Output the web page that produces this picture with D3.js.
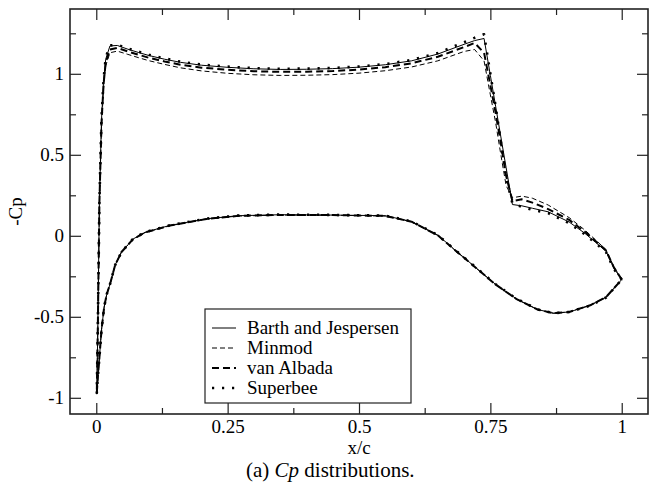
<!DOCTYPE html>
<html>
<head>
<meta charset="utf-8">
<script src="https://cdn.jsdelivr.net/npm/d3@7"></script>
<style>
  html, body { margin: 0; padding: 0; background: #fff; }
  svg { display: block; }
  text { font-family: "Liberation Serif", "Times New Roman", serif; fill: #000; }
</style>
</head>
<body>
<svg id="chart" width="649" height="490"></svg>
<script>
// Chordwise stations (x/c) on the upper and lower surfaces
const xUpper = [0.001, 0.003, 0.006, 0.010, 0.014, 0.018, 0.026, 0.040, 0.060, 0.080,
                0.100, 0.130, 0.160, 0.200, 0.250, 0.300, 0.350, 0.400, 0.450, 0.500,
                0.550, 0.600, 0.650, 0.700, 0.720, 0.738, 0.750, 0.760, 0.770, 0.780,
                0.792, 0.810, 0.830, 0.860, 0.900, 0.930, 0.950, 0.970, 0.985, 1.000];
const xLower = [0.001, 0.003, 0.006, 0.010, 0.015, 0.020, 0.026, 0.036, 0.048, 0.070,
                0.093, 0.140, 0.210, 0.270, 0.350, 0.450, 0.550, 0.600, 0.650, 0.680,
                0.720, 0.760, 0.800, 0.840, 0.870, 0.900, 0.940, 0.970, 1.000];

// -Cp, upper surface, per limiter
const barthUpper    = [-0.97, -0.55, 0.22, 0.72, 0.96, 1.09, 1.172, 1.175, 1.152, 1.132,
                       1.113, 1.090, 1.071, 1.053, 1.040, 1.031, 1.027, 1.028, 1.032, 1.041,
                       1.056, 1.080, 1.122, 1.182, 1.205, 1.218, 0.990, 0.800, 0.610, 0.420,
                       0.193, 0.185, 0.170, 0.148, 0.085, 0.015, -0.040, -0.095, -0.200, -0.270];
const minmodUpper   = [-0.97, -0.56, 0.20, 0.68, 0.92, 1.05, 1.130, 1.140, 1.120, 1.100,
                       1.081, 1.058, 1.037, 1.018, 1.003, 0.994, 0.990, 0.991, 0.995, 1.004,
                       1.019, 1.042, 1.080, 1.138, 1.150, 1.080, 0.870, 0.700, 0.500, 0.310,
                       0.235, 0.245, 0.232, 0.190, 0.112, 0.035, -0.025, -0.085, -0.190, -0.270];
const vanAlbadaUpper = [-0.97, -0.55, 0.21, 0.70, 0.94, 1.07, 1.150, 1.160, 1.138, 1.118,
                       1.099, 1.076, 1.056, 1.038, 1.025, 1.016, 1.012, 1.013, 1.017, 1.026,
                       1.041, 1.065, 1.105, 1.165, 1.190, 1.130, 0.930, 0.760, 0.570, 0.370,
                       0.215, 0.225, 0.205, 0.165, 0.098, 0.025, -0.032, -0.090, -0.195, -0.270];
const superbeeUpper = [-0.97, -0.55, 0.22, 0.73, 0.97, 1.10, 1.175, 1.180, 1.157, 1.137,
                       1.118, 1.095, 1.075, 1.057, 1.044, 1.035, 1.031, 1.032, 1.036, 1.045,
                       1.060, 1.085, 1.128, 1.195, 1.222, 1.244, 1.000, 0.800, 0.580, 0.360,
                       0.200, 0.178, 0.160, 0.140, 0.078, 0.008, -0.045, -0.100, -0.205, -0.270];

// -Cp, lower surface, per limiter
const barthLower    = [-0.97, -0.87, -0.75, -0.58, -0.44, -0.36, -0.30, -0.18, -0.10, -0.020,
                       0.022, 0.064, 0.105, 0.124, 0.130, 0.128, 0.124, 0.088, 0.004, -0.080,
                       -0.190, -0.300, -0.390, -0.455, -0.478, -0.470, -0.430, -0.380, -0.270];
const minmodLower   = [-0.97, -0.87, -0.75, -0.58, -0.44, -0.36, -0.30, -0.18, -0.10, -0.022,
                       0.020, 0.062, 0.103, 0.122, 0.128, 0.127, 0.122, 0.086, 0.002, -0.082,
                       -0.192, -0.302, -0.392, -0.456, -0.478, -0.470, -0.428, -0.378, -0.270];
const vanAlbadaLower = [-0.97, -0.87, -0.75, -0.58, -0.44, -0.36, -0.30, -0.18, -0.10, -0.021,
                       0.021, 0.063, 0.104, 0.123, 0.129, 0.128, 0.123, 0.087, 0.003, -0.081,
                       -0.191, -0.301, -0.391, -0.455, -0.478, -0.470, -0.429, -0.379, -0.270];
const superbeeLower = [-0.97, -0.87, -0.75, -0.58, -0.44, -0.36, -0.30, -0.18, -0.10, -0.019,
                       0.023, 0.065, 0.106, 0.125, 0.131, 0.129, 0.125, 0.089, 0.005, -0.079,
                       -0.189, -0.299, -0.389, -0.454, -0.478, -0.470, -0.431, -0.381, -0.270];

const seriesNames = ["Barth and Jespersen", "Minmod", "van Albada", "Superbee"];

const xMajorTicks = [0, 0.25, 0.5, 0.75, 1];
const xTickLabels = ["0", "0.25", "0.5", "0.75", "1"];
const yMajorTicks = [-1, -0.5, 0, 0.5, 1];
const yTickLabels = ["-1", "-0.5", "0", "0.5", "1"];

// Line styles per limiter
const styles = [
  { width: 1.0, dash: null },
  { width: 1.0, dash: "5,3" },
  { width: 2.0, dash: "7,4" },
  { width: 2.6, dash: "2.2,7.8" }
];

const uppers = [barthUpper, minmodUpper, vanAlbadaUpper, superbeeUpper];
const lowers = [barthLower, minmodLower, vanAlbadaLower, superbeeLower];

const svg = d3.select("#chart");
const plot = { left: 70, right: 648, top: 9, bottom: 414 };

const x = d3.scaleLinear().domain([-0.05, 1.05]).range([plot.left, plot.right]);
const y = d3.scaleLinear().domain([-1.1, 1.4]).range([plot.bottom, plot.top]);

// Curves: trailing edge -> upper surface -> leading edge -> lower surface -> trailing edge
const line = d3.line().x(d => x(d[0])).y(d => y(d[1]));
const curves = uppers.map((up, i) => {
  const u = xUpper.map((xv, j) => [xv, up[j]]).reverse();
  const l = xLower.map((xv, j) => [xv, lowers[i][j]]).slice(1);
  return u.concat(l);
});

svg.append("g").selectAll("path")
  .data(curves)
  .join("path")
  .attr("d", line)
  .attr("fill", "none")
  .attr("stroke", "#000")
  .attr("stroke-width", (d, i) => styles[i].width)
  .attr("stroke-dasharray", (d, i) => styles[i].dash)
  .attr("stroke-linejoin", "round");

// Axes: inward ticks on all four sides
const xMinor = [0.125, 0.375, 0.625, 0.875];
const yMinor = [-0.75, -0.25, 0.25, 0.75, 1.25];

function styleAxis(g) {
  g.select(".domain").remove();
  g.selectAll(".tick line").attr("stroke", "#222").attr("stroke-width", 1.2);
  g.selectAll(".tick text").style("font-size", "19px").style("font-family", "Liberation Serif");
}

svg.append("g").attr("transform", `translate(0,${plot.bottom})`)
  .call(d3.axisBottom(x).tickValues(xMajorTicks).tickSize(-11).tickPadding(6)
        .tickFormat((d, i) => xTickLabels[i]))
  .call(styleAxis);
svg.append("g").attr("transform", `translate(0,${plot.bottom})`)
  .call(d3.axisBottom(x).tickValues(xMinor).tickSize(-6).tickFormat(""))
  .call(styleAxis);
svg.append("g").attr("transform", `translate(0,${plot.top})`)
  .call(d3.axisTop(x).tickValues(xMajorTicks).tickSize(-11).tickFormat(""))
  .call(styleAxis);
svg.append("g").attr("transform", `translate(0,${plot.top})`)
  .call(d3.axisTop(x).tickValues(xMinor).tickSize(-6).tickFormat(""))
  .call(styleAxis);

svg.append("g").attr("transform", `translate(${plot.left},0)`)
  .call(d3.axisLeft(y).tickValues(yMajorTicks).tickSize(-11).tickPadding(6)
        .tickFormat((d, i) => yTickLabels[i]))
  .call(styleAxis);
svg.append("g").attr("transform", `translate(${plot.left},0)`)
  .call(d3.axisLeft(y).tickValues(yMinor).tickSize(-6).tickFormat(""))
  .call(styleAxis);
svg.append("g").attr("transform", `translate(${plot.right},0)`)
  .call(d3.axisRight(y).tickValues(yMajorTicks).tickSize(-11).tickFormat(""))
  .call(styleAxis);
svg.append("g").attr("transform", `translate(${plot.right},0)`)
  .call(d3.axisRight(y).tickValues(yMinor).tickSize(-6).tickFormat(""))
  .call(styleAxis);

// Frame
svg.append("rect")
  .attr("x", plot.left).attr("y", plot.top)
  .attr("width", plot.right - plot.left).attr("height", plot.bottom - plot.top)
  .attr("fill", "none").attr("stroke", "#222").attr("stroke-width", 1.6);

// Axis titles
svg.append("text")
  .attr("x", (plot.left + plot.right) / 2).attr("y", 454)
  .attr("text-anchor", "middle").style("font-size", "19px")
  .text("x/c");
svg.append("text")
  .attr("transform", `translate(22,${(plot.top + plot.bottom) / 2}) rotate(-90)`)
  .attr("text-anchor", "middle").style("font-size", "19px")
  .text("-Cp");

// Caption
const cap = svg.append("text").attr("x", 246).attr("y", 477).style("font-size", "21px");
cap.append("tspan").text("(a) ");
cap.append("tspan").style("font-style", "italic").text("Cp");
cap.append("tspan").text(" distributions.");

// Legend
const leg = svg.append("g");
const legRows = seriesNames.map((n, i) => 328 + i * 20);
leg.append("rect")
  .attr("x", 205).attr("y", 309).attr("width", 206).attr("height", 94)
  .attr("fill", "#fff").attr("stroke", "#222").attr("stroke-width", 1.2);
leg.selectAll("line.sample")
  .data(seriesNames)
  .join("line")
  .attr("class", "sample")
  .attr("x1", 212).attr("x2", 236)
  .attr("y1", (d, i) => legRows[i]).attr("y2", (d, i) => legRows[i])
  .attr("stroke", "#000")
  .attr("stroke-width", (d, i) => styles[i].width)
  .attr("stroke-dasharray", (d, i) => styles[i].dash);
leg.selectAll("text")
  .data(seriesNames)
  .join("text")
  .attr("x", 247).attr("y", (d, i) => legRows[i] + 6)
  .style("font-size", "19px")
  .text(d => d);
</script>
</body>
</html>
